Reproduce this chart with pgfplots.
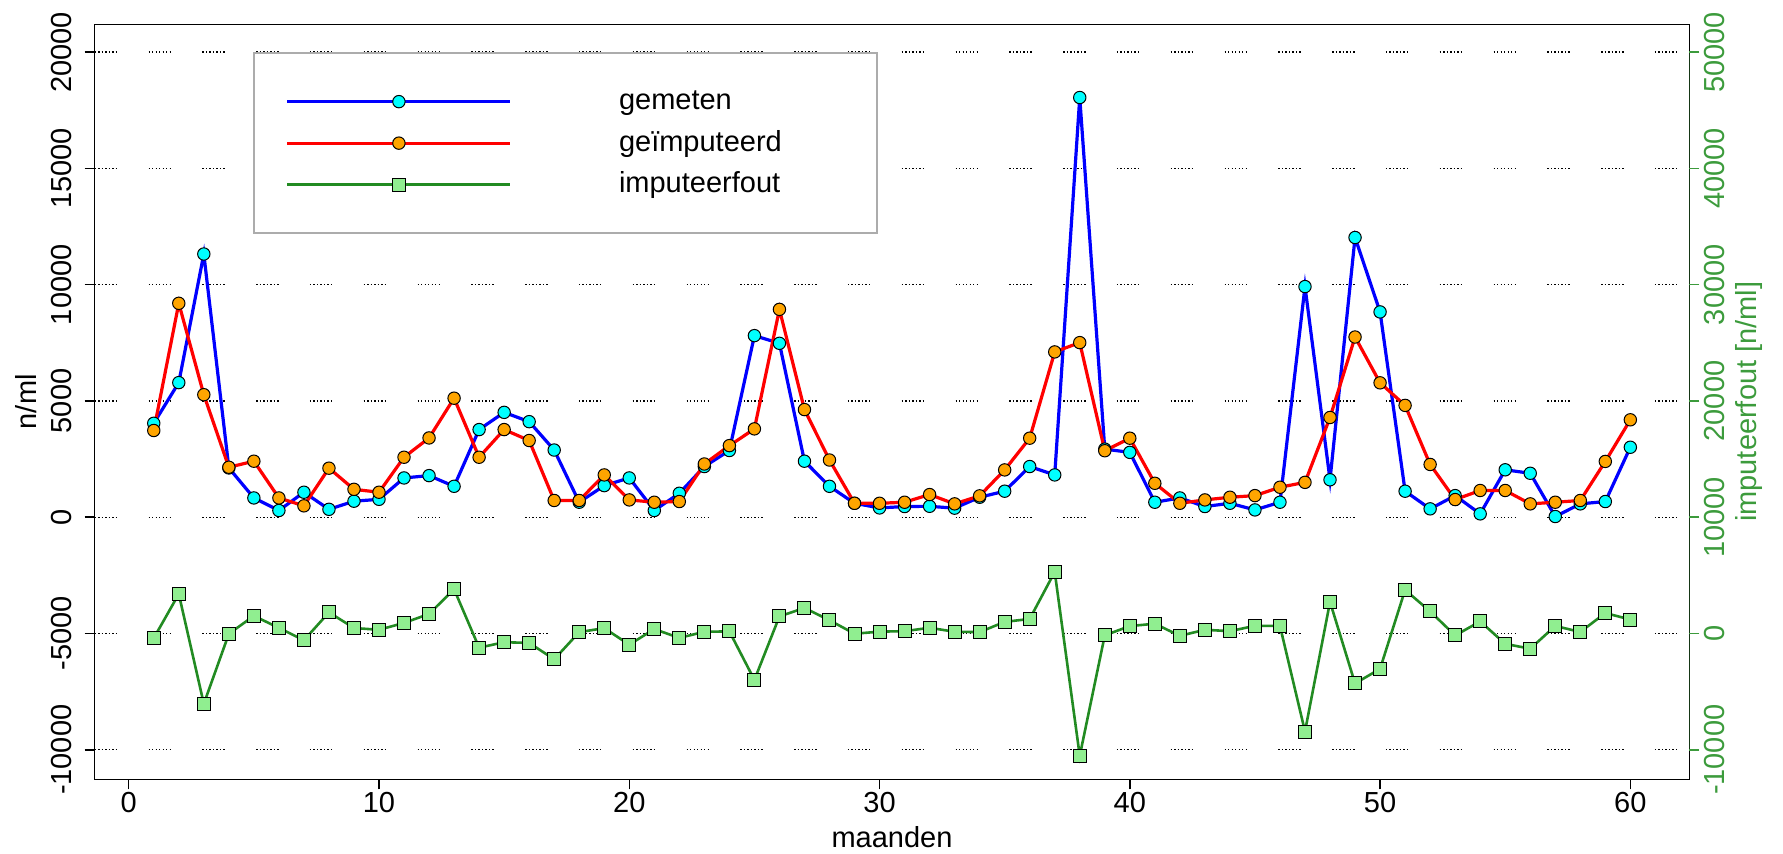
\documentclass[border=0pt]{standalone}
\usepackage{fontspec}
\setmainfont{Liberation Sans}
\usepackage{pgfplots}
\pgfplotsset{compat=1.18}
\definecolor{fgreen}{RGB}{34,139,34}
\definecolor{lgreen}{RGB}{144,238,144}
\definecolor{axgreen}{RGB}{60,155,60}
\definecolor{morange}{RGB}{255,165,0}
\definecolor{mcyan}{RGB}{0,255,255}

% R-style grid: short runs of dots
\tikzset{rdots/.style={black, line width=0.7pt,
  dash pattern=on 0.7pt off 1.05pt on 0.7pt off 1.05pt on 0.7pt off 1.05pt on 0.7pt off 1.05pt
  on 0.7pt off 1.05pt on 0.7pt off 1.05pt on 0.7pt off 15.7pt}}

\pgfplotsset{
  rframe/.style={
    at={(47.35pt,37.35pt)}, anchor=south west,
    scale only axis, width=797.35pt, height=377.5pt,
    xmin=-1.36, xmax=62.36,
    font=\fontsize{14.5}{17}\selectfont,
    tick align=outside, major tick length=5pt,
    scaled ticks=false,
    /pgf/number format/1000 sep={},
    /pgf/number format/assume math mode=true,
  },
}

\begin{document}
\begin{tikzpicture}
\path[use as bounding box] (0,0) rectangle (891.5pt,427pt);

\begin{axis}[
  rframe,
  ymin=-11270, ymax=21200,
  xtick={0,10,...,60}, ytick={-10000,-5000,...,20000},
  tick pos=left,
  tick style={black, line width=0.75pt},
  axis line style={line width=0.75pt},
  xticklabel style={anchor=base, inner sep=0pt},
  xticklabel shift=11.7pt,
  yticklabel style={rotate=90, anchor=base, inner sep=0pt},
  yticklabel shift=6.35pt,
  xlabel={maanden}, ylabel={n/ml},
  every axis x label/.style={at={(axis description cs:0.5,-0.091)}, anchor=base},
  every axis y label/.style={at={(axis description cs:-0.0362,0.5)}, rotate=90, anchor=base},
  ymajorgrids, major grid style={rdots},
  legend image code/.code={\draw[mark repeat=2, mark phase=2, #1]
    plot coordinates {(0pt,0pt) (55.75pt,0pt) (111.5pt,0pt)};},
  legend cell align=left,
  legend style={at={(axis description cs:0.0993,0.9629)}, anchor=north west,
    draw=gray!65, line width=0.75pt, fill=white,
    inner xsep=16pt, inner ysep=17.3pt, row sep=6.75pt, column sep=53.5pt,
    nodes={inner sep=0pt, text height=11pt, text depth=3pt}},
]
\addplot[blue, line width=1.6pt, mark=*, mark size=3.1pt,
  mark options={fill=mcyan, draw=black, line width=0.5pt}] coordinates {
(1,4040) (2,5790) (3,11320) (4,2120) (5,830) (6,290) (7,1075) (8,340) (9,690) (10,770)
(11,1690) (12,1790) (13,1330) (14,3770) (15,4510) (16,4110) (17,2890) (18,645) (19,1360) (20,1690)
(21,290) (22,1030) (23,2180) (24,2870) (25,7810) (26,7480) (27,2410) (28,1330) (29,600) (30,400)
(31,460) (32,470) (33,390) (34,860) (35,1120) (36,2180) (37,1820) (38,18050) (39,2930) (40,2790)
(41,645) (42,830) (43,460) (44,600) (45,315) (46,645) (47,9920) (48,1610) (49,12030) (50,8830)
(51,1120) (52,360) (53,930) (54,145) (55,2040) (56,1890) (57,30) (58,575) (59,675) (60,3010)};
\addlegendentry{\makebox[113pt][l]{gemeten}}
\addplot[red, line width=1.6pt, mark=*, mark size=3.1pt,
  mark options={fill=morange, draw=black, line width=0.5pt}] coordinates {
(1,3730) (2,9200) (3,5270) (4,2150) (5,2410) (6,830) (7,490) (8,2110) (9,1200) (10,1075)
(11,2580) (12,3410) (13,5120) (14,2580) (15,3770) (16,3300) (17,720) (18,720) (19,1820) (20,745)
(21,645) (22,675) (23,2290) (24,3080) (25,3800) (26,8940) (27,4630) (28,2460) (29,600) (30,600)
(31,645) (32,975) (33,575) (34,920) (35,2035) (36,3400) (37,7110) (38,7510) (39,2860) (40,3400)
(41,1460) (42,600) (43,745) (44,860) (45,930) (46,1290) (47,1500) (48,4290) (49,7750) (50,5780)
(51,4810) (52,2270) (53,760) (54,1150) (55,1150) (56,575) (57,645) (58,720) (59,2400) (60,4190)};
\addlegendentry{\makebox[113pt][l]{geïmputeerd}}
\addlegendimage{fgreen, line width=1.3pt, mark=square*, mark size=3.25pt,
  mark options={fill=lgreen, draw=black, line width=0.5pt}}
\addlegendentry{\makebox[113pt][l]{imputeerfout}}
\end{axis}

\begin{axis}[
  rframe,
  ymin=-12540, ymax=52400,
  axis x line=none, axis y line*=right,
  y axis line style={draw=none},
  ytick={-10000,0,...,50000},
  ytick style={axgreen, line width=0.75pt},
  yticklabel style={rotate=90, anchor=base, inner sep=0pt, text=axgreen},
  yticklabel shift=12.3pt,
  ylabel={imputeerfout [n/ml]},
  every axis y label/.style={at={(axis description cs:1.0418,0.5)}, rotate=90, anchor=base, text=axgreen},
]
\draw[axgreen, line width=0.75pt] (axis cs:62.36,-10000) -- (axis cs:62.36,50000);
\addplot[fgreen, line width=1.3pt, mark=square*, mark size=3.25pt,
  mark options={fill=lgreen, draw=black, line width=0.5pt}] coordinates {
(1,-400) (2,3400) (3,-6050) (4,-30) (5,1520) (6,480) (7,-580) (8,1820) (9,470) (10,320)
(11,910) (12,1680) (13,3800) (14,-1220) (15,-750) (16,-810) (17,-2220) (18,120) (19,460) (20,-960)
(21,380) (22,-380) (23,150) (24,180) (25,-3990) (26,1470) (27,2200) (28,1140) (29,-20) (30,160)
(31,200) (32,490) (33,150) (34,120) (35,1000) (36,1250) (37,5300) (38,-10520) (39,-160) (40,640)
(41,840) (42,-200) (43,320) (44,200) (45,660) (46,650) (47,-8430) (48,2720) (49,-4300) (50,-3040)
(51,3750) (52,1900) (53,-170) (54,1040) (55,-890) (56,-1310) (57,650) (58,130) (59,1760) (60,1200)};
\end{axis}
\end{tikzpicture}
\end{document}
